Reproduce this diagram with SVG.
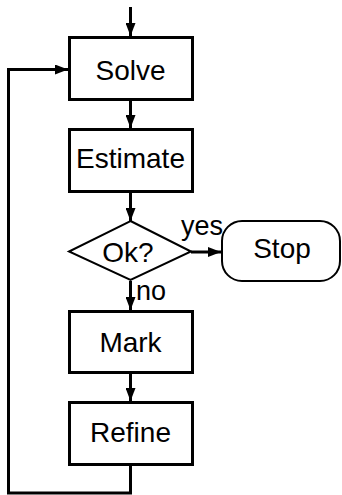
<svg xmlns="http://www.w3.org/2000/svg" width="342" height="495" viewBox="0 0 342 495">
<style>
.box{fill:#fff;stroke:#000;stroke-width:3}
.thin{fill:#fff;stroke:#000;stroke-width:2}
.lbl{font-family:"Liberation Sans",Arial,sans-serif;font-size:28px;fill:#000;text-anchor:middle}
.small{font-family:"Liberation Sans",Arial,sans-serif;font-size:27px;fill:#000}
.edge{fill:none;stroke:#000;stroke-width:3}
</style>
<defs>
<marker id="ah" viewBox="0 0 13 10" refX="13" refY="5" markerWidth="13" markerHeight="10" markerUnits="userSpaceOnUse" orient="auto">
<path d="M0,0 L13,5 L0,10 z" fill="#000"/>
</marker>
</defs>
<g id="connectors">
<path class="edge" d="M130.5,7 V36" marker-end="url(#ah)"/>
<path class="edge" d="M130.5,100 V128" marker-end="url(#ah)"/>
<path class="edge" d="M130.5,192 V221" marker-end="url(#ah)"/>
<path class="edge" d="M191,252 H221" marker-end="url(#ah)"/>
<path class="edge" d="M130.5,281 V310" marker-end="url(#ah)"/>
<path class="edge" d="M130.5,373 V401" marker-end="url(#ah)"/>
<path class="edge" d="M130.5,466 V493 H8.5 V69.5 H68" marker-end="url(#ah)"/>
<text class="small" x="181" y="235">yes</text>
<text class="small" x="136" y="300">no</text>
</g>
<g id="solve">
<rect class="box" x="69.5" y="37.5" width="123" height="62"/>
<text class="lbl" x="130.5" y="80">Solve</text>
</g>
<g id="estimate">
<rect class="box" x="69.5" y="129.5" width="123" height="62"/>
<text class="lbl" x="130.5" y="168">Estimate</text>
</g>
<g id="ok">
<path class="thin" d="M130.5,221 L191,251.5 L130.5,280 L69,251.5 Z"/>
<text class="lbl" x="128" y="262">Ok?</text>
</g>
<g id="stop">
<rect class="thin" x="222" y="221" width="118" height="60" rx="20" ry="20"/>
<text class="lbl" x="282" y="258">Stop</text>
</g>
<g id="mark">
<rect class="box" x="69.5" y="311.5" width="123" height="61"/>
<text class="lbl" x="130.5" y="352">Mark</text>
</g>
<g id="refine">
<rect class="box" x="69.5" y="402.5" width="123" height="62"/>
<text class="lbl" x="130.5" y="442">Refine</text>
</g>
</svg>
